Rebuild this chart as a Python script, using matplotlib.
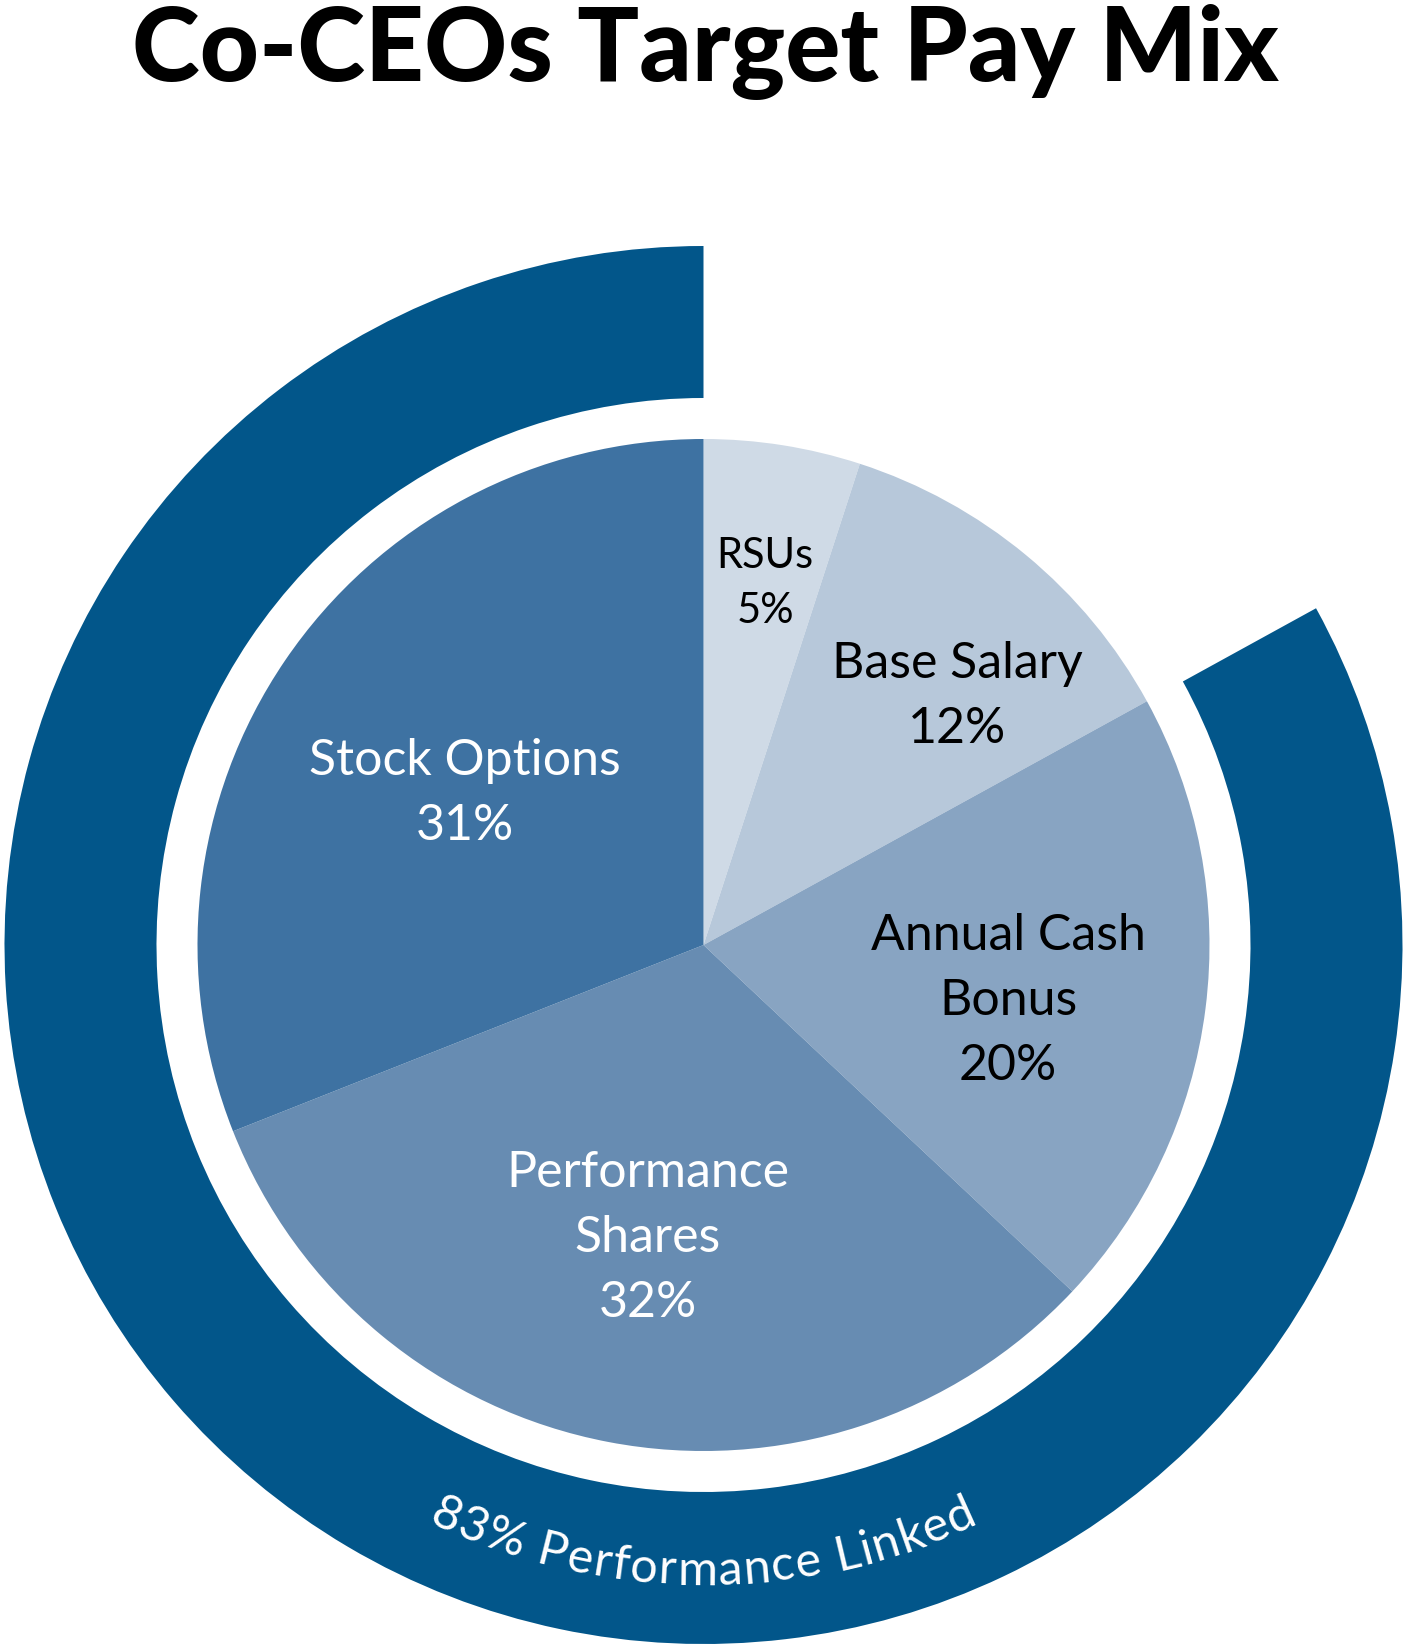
import numpy as np
import matplotlib
matplotlib.use("Agg")
import matplotlib.pyplot as plt
from matplotlib.font_manager import FontProperties, findfont, get_font

# chart data
title = "Co-CEOs Target Pay Mix"
components = ["RSUs", "Base Salary", "Annual Cash Bonus", "Performance Shares", "Stock Options"]
shares = [5, 12, 20, 32, 31]
label_lines = [["RSUs"], ["Base Salary"], ["Annual Cash", "Bonus"], ["Performance", "Shares"], ["Stock Options"]]
perf_linked = 83

slice_colors = ["#cfdae6", "#b7c8da", "#88a4c2", "#678cb2", "#3e72a2"]
text_colors = ["black", "black", "black", "white", "white"]
ring_color = "#02568a"

W, H = 1408, 1650
fig = plt.figure(figsize=(W / 100, H / 100), dpi=100)
ax = fig.add_axes([0, 0, 1, 1])

def Y(y):
    # pixel row (top origin) -> data y
    return H - y

cx, cy = 703.5, Y(945)
r_pie, r_ring_in, r_ring_out = 506, 547, 699

# outer ring: performance linked share, drawn counterclockwise from 12 o'clock
ax.pie([perf_linked, 100 - perf_linked], radius=r_ring_out, center=(cx, cy),
       startangle=90, counterclock=True, colors=[ring_color, "none"],
       wedgeprops=dict(width=r_ring_out - r_ring_in, linewidth=0))

# inner pie
ax.pie(shares, radius=r_pie, center=(cx, cy), startangle=90, counterclock=False,
       colors=slice_colors, wedgeprops=dict(linewidth=0))

ax.set_xlim(0, W)
ax.set_ylim(0, H)
ax.set_aspect("equal")
ax.axis("off")

# slice labels
label_pos = [(765, 568), (957, 678), (1008, 950), (648, 1187), (465, 775)]
label_size = [30, 36, 36, 36, 36]
line_gap = [55, 65, 65, 65, 65]
for lines, share, (lx, ly), fs, gap, tc in zip(label_lines, shares, label_pos, label_size, line_gap, text_colors):
    for i, s in enumerate(lines + [f"{share}%"]):
        ax.text(lx, Y(ly + i * gap), s, ha="center", va="baseline", fontsize=fs,
                color=tc, family="Lato")

# title
ax.text(705, Y(81), title, ha="center", va="baseline", fontsize=74,
        fontweight="black", family="Lato", color="black")

# curved ring label
ring_label = f"{perf_linked}% Performance Linked"
fp = FontProperties(family="Lato", size=35)
font = get_font(findfont(fp))
font.set_size(fp.get_size_in_points(), fig.dpi)
adv = np.array([font.load_char(ord(c)).linearHoriAdvance / 65536 for c in ring_label])
r_text = 640
target_len = np.deg2rad(51) * r_text
track = (target_len - adv.sum()) / (len(ring_label) - 1)
pos = np.cumsum(adv + track) - track - adv / 2
total = pos[-1] + adv[-1] / 2
for ch, s in zip(ring_label, pos):
    a = -np.pi / 2 + (s - total / 2) / r_text
    ax.text(cx + r_text * np.cos(a), cy + r_text * np.sin(a), ch, fontproperties=fp,
            color="white", ha="center", va="baseline", rotation=np.rad2deg(a) + 90,
            rotation_mode="anchor")

fig.savefig("out.png", dpi=100)
